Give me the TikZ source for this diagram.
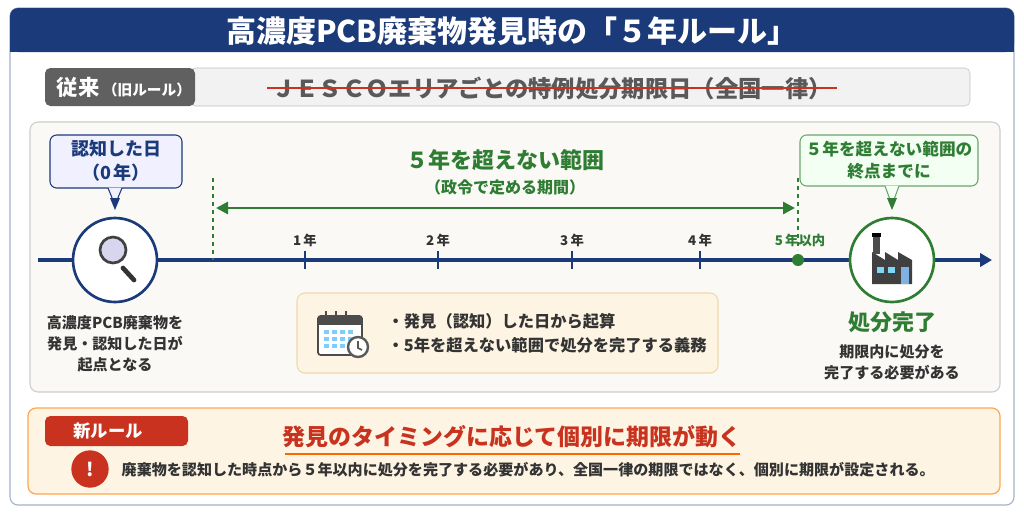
\documentclass[tikz,border=0pt]{standalone}
\usepackage{fontspec}
\setmainfont{Noto Sans CJK JP}
\usetikzlibrary{arrows.meta}
\definecolor{navy}{HTML}{1B3A7A}
\definecolor{gr}{HTML}{2E7D32}
\definecolor{cream}{HTML}{FDF4E3}
\definecolor{creamb}{HTML}{EFD9A8}
\definecolor{redc}{HTML}{C8321E}
\definecolor{txt}{HTML}{333333}
\definecolor{panel}{HTML}{FAF9F6}
\tikzset{
 lbl/.style={font=\fontsize{11.3}{13}\selectfont\bfseries,text=txt,align=center},
 tick/.style={navy,line width=1.5pt},
 gdash/.style={gr,dashed,line width=0.9pt},
}
\begin{document}
\begin{tikzpicture}[x=0.75pt,y=-0.75pt]
\useasboundingbox (0,0) rectangle (1024,512);
\fill[white] (0,0) rectangle (1024,512);
% outer frame
\draw[rounded corners=6pt,draw=navy!40,line width=0.8pt,fill=white] (10,8) rectangle (1014,505);
\fill[navy,rounded corners=6pt] (10,8) rectangle (1014,52);
\fill[navy] (10,30) rectangle (1014,52);
\node[text=white,font=\fontsize{22.5}{26}\selectfont\bfseries] (title) at (512,31) {高濃度PCB廃棄物発見時の「５年ルール」};
% old rule row
\draw[rounded corners=4pt,fill=gray!10,draw=gray!50] (190,68) rectangle (970,106);
\fill[gray!75!black,rounded corners=4pt] (45,68) rectangle (195,106);
\node[text=white,anchor=west] (old) at (52,87) {\fontsize{16}{18}\selectfont\bfseries 従来\,\fontsize{11}{13}\selectfont（旧ルール）};
\node[text=gray!70!black,font=\fontsize{17.5}{20}\selectfont\bfseries] (oldtxt) at (552,88) {ＪＥＳＣＯエリアごとの特例処分期限日（全国一律）};
\draw[redc,line width=1.3pt] (oldtxt.west) -- (oldtxt.east);
% main panel
\draw[rounded corners=6pt,fill=panel,draw=gray!40,line width=0.8pt] (30,122) rectangle (1000,392);
% timeline
\draw[navy,line width=2.5pt,-{Triangle[length=9pt,width=10pt]}] (38,260) -- (992,260);
% range
\draw[gdash] (213,178) -- (213,260);
\draw[gdash] (798,178) -- (798,250);
\coordinate (ra) at (216,208); \coordinate (rb) at (795,208);
\draw[gr,line width=2.2pt,{Triangle[length=9pt,width=9pt]}-{Triangle[length=9pt,width=9pt]}] (ra) -- (rb);
\node[text=gr,font=\fontsize{16.5}{19}\selectfont\bfseries] (rt) at (505,160) {５年を超えない範囲};
\node[text=gr,font=\fontsize{12}{14}\selectfont\bfseries] (rs) at (505,187) {（政令で定める期間）};
% ticks
\foreach \x/\t in {305/1,438/2,572/3,700/4}{
 \draw[tick] (\x,251) -- (\x,269);
 \node[text=txt,font=\fontsize{10}{12}\selectfont\bfseries] at (\x,240) {\t\,年};
}
\fill[gr] (798,260) circle (6);
\node[text=gr,font=\fontsize{10}{12}\selectfont\bfseries] (five) at (800,240) {5\,年以内};
% left circle
\node[circle,draw=navy,line width=2pt,fill=white,minimum size=63pt] (start) at (115,260) {};
\draw[gray!40!black,line width=3.5pt,line cap=round] (123,268) -- (134,280);
\draw[gray!50!black,line width=2pt,fill=cyan!15!blue!15] (113,250) circle (13);
% left callout
\draw[navy,fill=blue!6,rounded corners=5pt,line width=0.8pt] (50,135) rectangle (182,188);
\fill[blue!6] (108,187.5) -- (122,187.5) -- (115,205) -- cycle;
\draw[navy,line width=0.8pt] (108,188) -- (115,205) -- (122,188);
\fill[navy] (110,198) -- (120,198) -- (115,210) -- cycle;
\node[font=\fontsize{13.5}{18}\selectfont\bfseries,text=navy,align=center] (c1) at (116,161) {認知した日\\（0\,年）};
\node[lbl] (d1) at (115,344) {高濃度PCB廃棄物を\\[3pt]発見・認知した日が\\[3pt]起点となる};
% right circle
\node[circle,draw=gr,line width=2pt,fill=white,minimum size=63pt] (end) at (892,260) {};
\fill[gray!50!black] (872,284) -- (872,252) -- (885,260) -- (885,252) -- (898,260) -- (898,252) -- (912,260) -- (912,284) -- cycle;
\fill[gray!60!black] (873,236) rectangle (880,254);
\fill[black] (872,233) rectangle (881,237);
\fill[cyan!50] (877,267) rectangle (884,273);
\fill[cyan!50] (888,267) rectangle (895,273);
\fill[cyan!60!blue!50] (901,267) rectangle (909,284);
% right callout
\draw[gr!70,fill=green!5,rounded corners=5pt,line width=0.8pt] (800,135) rectangle (978,186);
\fill[green!5] (885,185.5) -- (899,185.5) -- (892,205) -- cycle;
\draw[gr!70,line width=0.8pt] (885,186) -- (892,205) -- (899,186);
\fill[gr] (887,198) -- (897,198) -- (892,210) -- cycle;
\node[font=\fontsize{12.5}{16}\selectfont\bfseries,text=gr,align=center] (c2) at (889,160) {５年を超えない範囲の\\終点までに};
\node[text=gr,font=\fontsize{16.5}{19}\selectfont\bfseries] (done) at (892,322) {処分完了};
\node[lbl] (d2) at (892,362) {期限内に処分を\\[3pt]完了する必要がある};
% info box
\draw[rounded corners=6pt,fill=cream,draw=creamb,line width=0.8pt] (297,293) rectangle (718,373);
\draw[gray!60!black,line width=1.3pt,fill=white,rounded corners=2pt] (318,316) rectangle (362,355);
\fill[gray!60!black] (318,316) rectangle (362,325);
\foreach \i in {0,1,2}{\draw[gray!60!black,line width=1.3pt] (326+\i*10,311) -- (326+\i*10,320);}
\foreach \r in {0,1,2}{\foreach \c in {0,1,2,3}{\fill[blue!40!cyan!50] (324+\c*8,330+\r*7) rectangle (329+\c*8,334+\r*7);}}
\draw[gray!70!black,line width=1.8pt,fill=white] (358,347) circle (10);
\draw[gray!70!black,line width=1.2pt] (358,341) -- (358,348) -- (362,350);
\node[anchor=west,font=\fontsize{12.2}{15}\selectfont\bfseries,text=txt,align=left] (info) at (383,333) {・発見（認知）した日から起算\\[3pt]・5年を超えない範囲で処分を完了する義務};
% new rule
\draw[rounded corners=6pt,fill=cream,draw=orange!70,line width=0.9pt] (28,408) rectangle (1000,494);
\fill[redc,rounded corners=4pt] (45,416) rectangle (188,446);
\node[text=white,font=\fontsize{13}{15}\selectfont\bfseries] (new) at (108,431) {新ルール};
\node[text=redc,font=\fontsize{17.2}{20}\selectfont\bfseries] (nt) at (512,437) {発見のタイミングに応じて個別に期限が動く};
\draw[orange!80!red,line width=1.3pt] (285,454) -- (740,454);
\node[circle,fill=redc,minimum size=28,inner sep=0,text=white,font=\fontsize{14}{14}\selectfont\bfseries] (ex) at (90,469) {!};
\node[anchor=west,font=\fontsize{11.3}{13}\selectfont\bfseries,text=txt] (nd) at (117,470) {廃棄物を認知した時点から５年以内に処分を完了する必要があり、全国一律の期限ではなく、個別に期限が設定される。};
\end{tikzpicture}
\end{document}
